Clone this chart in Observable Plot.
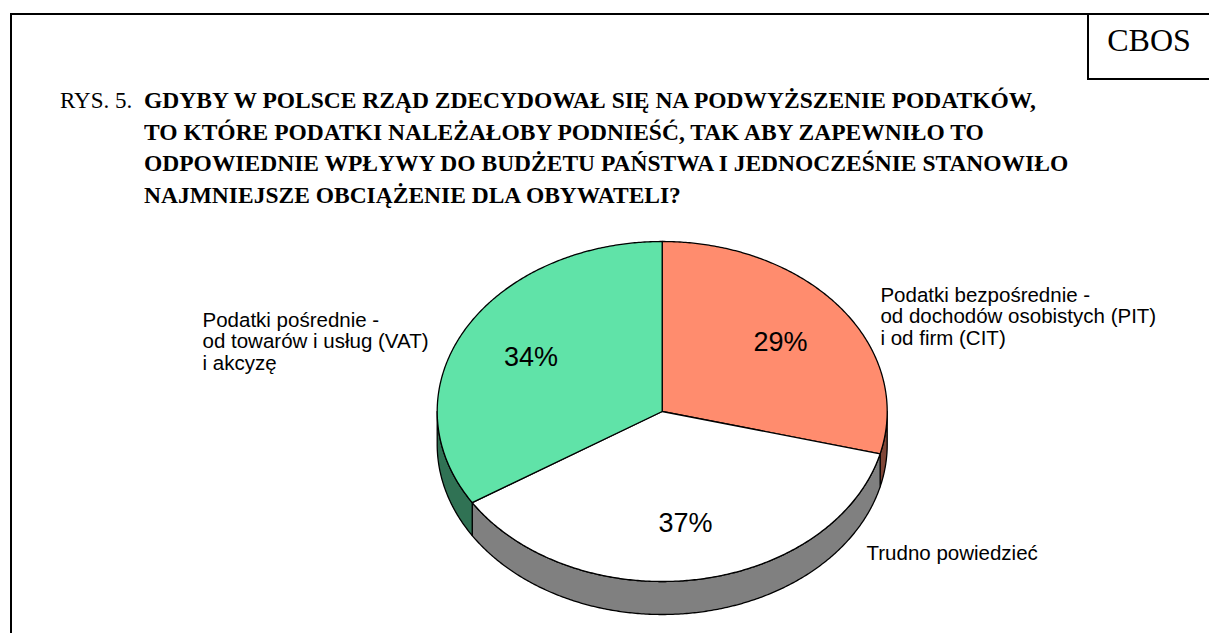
<!DOCTYPE html>
<html>
<head>
<meta charset="utf-8">
<script src="https://cdn.jsdelivr.net/npm/d3@7"></script>
<script src="https://cdn.jsdelivr.net/npm/@observablehq/plot@0.6"></script>
<style>
  html, body { margin: 0; padding: 0; background: #fff; }
  #page { position: relative; width: 1209px; height: 633px; overflow: hidden; background: #fff; }
  #chart { position: absolute; left: 0; top: 0; }
  .ln { position: absolute; background: #000; }
  .serif { font-family: "Liberation Serif", "Times New Roman", Times, serif; }
  #rys { position: absolute; left: 60px; top: 85px; font-size: 23px; line-height: 31.7px; white-space: nowrap; }
  #title { position: absolute; left: 144px; top: 85px; font-size: 23px; line-height: 31.7px; font-weight: bold; white-space: nowrap; transform-origin: 0 0; }
  #title span { display: block; width: max-content; }
  #cbos { position: absolute; left: 1089px; top: 21px; width: 120px; text-align: center; font-size: 32px; line-height: 38px; }
</style>
</head>
<body>
<div id="page">
  <div id="chart"></div>
  <div class="ln" style="left:10px; top:13px; width:2px; height:620px;"></div>
  <div class="ln" style="left:10px; top:13px; width:1199px; height:2px;"></div>
  <div class="ln" style="left:1087px; top:13px; width:2px; height:67px;"></div>
  <div class="ln" style="left:1087px; top:78px; width:122px; height:2px;"></div>
  <div id="cbos" class="serif">CBOS</div>
  <div id="rys" class="serif">RYS. 5.</div>
  <div id="title" class="serif"><span id="t1">GDYBY W POLSCE RZĄD ZDECYDOWAŁ SIĘ NA PODWYŻSZENIE PODATKÓW,</span><span>TO KTÓRE PODATKI NALEŻAŁOBY PODNIEŚĆ, TAK ABY ZAPEWNIŁO TO</span><span>ODPOWIEDNIE WPŁYWY DO BUDŻETU PAŃSTWA I JEDNOCZEŚNIE STANOWIŁO</span><span>NAJMNIEJSZE OBCIĄŻENIE DLA OBYWATELI?</span></div>
</div>
<script>
// ---- data ----
const categories = [
  "Podatki bezpośrednie -\nod dochodów osobistych (PIT)\ni od firm (CIT)",
  "Trudno powiedzieć",
  "Podatki pośrednie -\nod towarów i usług (VAT)\ni akcyzę"
];
const values = [29, 37, 34];
const percentLabels = ["29%", "37%", "34%"];

// ---- styles / layout (not data) ----
const topColors = ["#FF8C6E", "#FFFFFF", "#60E3A8"];
const sideColors = topColors.map(c => { const r = d3.rgb(c); return d3.rgb(r.r * 0.5, r.g * 0.5, r.b * 0.5).formatHex(); });
const pie = {cx: 661.7, cy: 411, rx: 225, ry: 170, depth: 33};
const depthU = pie.depth / pie.ry;
const labelRadius = 0.665;
// outside label anchors in pie units (multiples of rx / ry), start-anchored
const labelAnchors = [[0.97, -0.56], [0.908, 0.835], [-2.043, -0.412]];

// ---- geometry from data ----
const total = d3.sum(values);
let acc = 0;
const slices = values.map((v, i) => {
  const a = acc / total * 360; acc += v; const b = acc / total * 360;
  return {i, a, b, mid: (a + b) / 2};
});
const rad = d => d * Math.PI / 180;
const P = (deg, dz = 0) => ({x: Math.sin(rad(deg)), y: -Math.cos(rad(deg)) + dz});
function arc(a, b, dz = 0) {
  const n = Math.max(2, Math.ceil((b - a) / 0.5));
  return d3.range(n + 1).map(k => P(a + (b - a) * k / n, dz));
}
const sidePts = [];
slices.forEach(s => {
  const st = Math.max(s.a, 90), en = Math.min(s.b, 270);
  if (st < en) {
    const pts = arc(st, en).concat(arc(st, en, depthU).reverse());
    pts.forEach(p => sidePts.push({...p, id: "side" + s.i, fill: sideColors[s.i]}));
  }
});
const topPts = [];
slices.forEach(s => {
  const pts = [{x: 0, y: 0}].concat(arc(s.a, s.b));
  pts.forEach(p => topPts.push({...p, id: "top" + s.i, fill: topColors[s.i]}));
});
const pctData = slices.map(s => {
  const p = P(s.mid);
  return {x: p.x * labelRadius, y: p.y * labelRadius, text: percentLabels[s.i]};
});
const catData = slices.map(s => ({x: labelAnchors[s.i][0], y: labelAnchors[s.i][1], text: categories[s.i]}));

const font = "'Liberation Sans', Arial, sans-serif";
const chart = Plot.plot({
  width: 1209, height: 633, margin: 0,
  x: {domain: [-1, 1], range: [pie.cx - pie.rx, pie.cx + pie.rx], axis: null},
  y: {domain: [-1, 1], range: [pie.cy - pie.ry, pie.cy + pie.ry], axis: null},
  color: {type: "identity"},
  style: {fontFamily: font, background: "transparent"},
  marks: [
    Plot.line(sidePts, {x: "x", y: "y", z: "id", fill: "fill", stroke: "black", strokeWidth: 1.3, curve: "linear-closed"}),
    Plot.line(topPts, {x: "x", y: "y", z: "id", fill: "fill", stroke: "black", strokeWidth: 1.3, curve: "linear-closed"}),
    Plot.text(pctData, {x: "x", y: "y", text: "text", fontSize: 27, fontFamily: font, fill: "black"}),
    Plot.text(catData, {x: "x", y: "y", text: "text", textAnchor: "start", fontSize: 20.5, lineHeight: 1.05, fontFamily: font, fill: "black"})
  ]
});
document.getElementById("chart").appendChild(chart);

// fit the title so its first line spans the same width as in the reference
const t1w = document.getElementById("t1").getBoundingClientRect().width;
const sx = 892 / t1w;
document.getElementById("title").style.transform = `scaleX(${sx})`;
</script>
</body>
</html>
